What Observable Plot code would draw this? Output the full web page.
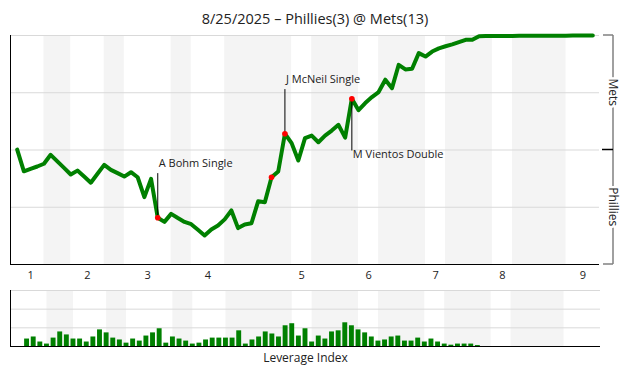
<!DOCTYPE html>
<html><head><meta charset="utf-8">
<script src="https://cdn.jsdelivr.net/npm/d3@7"></script>
<script src="https://cdn.jsdelivr.net/npm/@observablehq/plot@0.6"></script>
<style>
body{margin:0;background:#fff;font-family:'Open Sans',sans-serif;}
#wrap{position:relative;width:630px;height:380px;overflow:hidden;}
#title{position:absolute;top:11px;left:0;width:630px;text-align:center;font-size:14.5px;line-height:15px;color:#222;white-space:nowrap;}
#main{position:absolute;top:30px;left:0;}
#lev{position:absolute;top:285px;left:0;}
</style></head><body>
<div id="wrap"><div id="title"></div><div id="main"></div><div id="lev"></div></div>
<script>
const titleText = "8/25/2025 – Phillies(3) @ Mets(13)";
const levLabel = "Leverage Index";

// Mets (home) win probability after each plate appearance (index 0 = game start)
const homeWinProb = [
  0.502, 0.407, 0.418, 0.428, 0.440, 0.479, 0.450, 0.422, 0.393, 0.410,
  0.384, 0.357, 0.396, 0.435, 0.413, 0.399, 0.384, 0.403, 0.381, 0.294,
  0.374, 0.204, 0.186, 0.221, 0.203, 0.186, 0.176, 0.152, 0.127, 0.153,
  0.170, 0.197, 0.236, 0.159, 0.175, 0.180, 0.276, 0.272, 0.381, 0.406,
  0.571, 0.530, 0.454, 0.552, 0.563, 0.534, 0.563, 0.585, 0.610, 0.554,
  0.724, 0.674, 0.705, 0.731, 0.753, 0.807, 0.770, 0.872, 0.852, 0.855,
  0.923, 0.908, 0.930, 0.944, 0.953, 0.961, 0.971, 0.981, 0.981, 0.997,
  0.998, 0.998, 0.998, 0.998, 0.998, 0.999, 0.999, 0.999, 0.999, 0.999,
  0.999, 0.999, 0.999, 1.000, 1.000, 1.000, 1.000
];

// Leverage index of plate appearances 1..86 (in gridline units)
const leverage = [
  0.40, 0.51, 0.24, 0.13, 0.45, 0.78, 0.62, 0.40, 0.40, 0.24,
  0.51, 0.89, 0.73, 0.45, 0.35, 0.18, 0.40, 0.29, 0.56, 0.73,
  0.95, 0.18, 0.51, 0.40, 0.29, 0.13, 0.18, 0.35, 0.45, 0.45,
  0.45, 0.45, 0.84, 0.13, 0.35, 0.51, 0.78, 0.67, 0.51, 1.11,
  1.22, 0.56, 0.95, 0.24, 0.56, 0.40, 0.78, 0.84, 1.27, 1.11,
  0.89, 0.73, 0.51, 0.29, 0.35, 0.51, 0.56, 0.29, 0.29, 0.45,
  0.24, 0.40, 0.24, 0.13, 0.07, 0.13, 0.13, 0.13, 0.05, 0,
  0, 0, 0, 0, 0, 0, 0, 0, 0, 0,
  0, 0, 0, 0, 0, 0
];

// plate-appearance index at which each half inning ends
const halfInningEnds = [4, 8, 13, 16, 23, 26, 31, 41, 44, 51, 54, 61, 64, 71, 74, 82, 87];
const inningLabels = ["1", "2", "3", "4", "5", "6", "7", "8", "9"];

const eventPA = [21, 38, 40, 50];
const eventLabels = ["A Bohm Single", "", "J McNeil Single", "M Vientos Double"];
const eventSide = ["above", "none", "above", "below"];

const teamNames = ["Mets", "Phillies"];
const teamLow = [0.5, 0];
const teamHigh = [1, 0.5];

document.getElementById("title").textContent = titleText;

// derived tables
const halves = halfInningEnds.map((end, j) => ({start: j === 0 ? 0 : halfInningEnds[j - 1], end, bottom: j % 2 === 1}));
const bottomHalves = halves.filter(h => h.bottom);
const innings = inningLabels.map((label, j) => ({label, center: (halves[2 * j].start + halves[2 * j].end) / 2}));
const wp = homeWinProb.map((p, i) => ({i, p}));
const events = eventPA.map((pa, j) => {
  const p = homeWinProb[pa];
  const side = eventSide[j];
  return {pa, p, label: eventLabels[j], side, tip: side === "above" ? p + 0.195 : side === "below" ? p - 0.226 : p};
});
const labelled = events.filter(e => e.side !== "none");
const levData = leverage.map((v, j) => ({pa: j + 1, v}));

const font = "'Open Sans', sans-serif";
const xDomain = [-1, 87];

const main = Plot.plot({
  width: 630, height: 255,
  marginTop: 5, marginBottom: 21, marginLeft: 10, marginRight: 31,
  x: {domain: xDomain, axis: null},
  y: {domain: [0, 1], axis: null},
  style: {fontFamily: font, fontSize: "11px", color: "#222", background: "transparent", overflow: "visible"},
  marks: [
    Plot.rect(bottomHalves, {x1: "start", x2: "end", y1: 0, y2: 1, fill: "#f4f4f4"}),
    Plot.ruleY([0.25, 0.5, 0.75, 1], {stroke: "#d9d9d9"}),
    Plot.ruleY([0], {stroke: "#000"}),
    Plot.ruleX([xDomain[0]], {stroke: "#000"}),
    Plot.line(wp, {x: "i", y: "p", stroke: "#008000", strokeWidth: 4, strokeLinejoin: "round", strokeLinecap: "round"}),
    Plot.link(labelled, {x1: "pa", x2: "pa", y1: "p", y2: "tip", stroke: "#000", strokeWidth: 1}),
    Plot.dot(events, {x: "pa", y: "p", r: 2.8, fill: "#ff0000", stroke: null}),
    Plot.text(labelled.filter(e => e.side === "above"), {x: "pa", y: "tip", text: "label", textAnchor: "start", lineAnchor: "bottom", dx: 1, dy: -6, fill: "#222"}),
    Plot.text(labelled.filter(e => e.side === "below"), {x: "pa", y: "tip", text: "label", textAnchor: "start", lineAnchor: "top", dx: 1, dy: 0, fill: "#222"}),
    Plot.text(innings, {x: "center", y: 0, text: "label", lineAnchor: "top", dy: 7, fill: "#222"})
  ]
});
document.getElementById("main").appendChild(main);

// team bracket on the right, positioned with Plot's own scales
{
  const sx = main.scale("x"), sy = main.scale("y");
  const Y = d3.scaleLinear(sy.domain, sy.range);
  const bx = Math.max(...sx.range) + 14;
  const g = d3.select(main).append("g");
  g.append("line").attr("x1", bx).attr("x2", bx).attr("y1", Y(0)).attr("y2", Y(1)).attr("stroke", "#808080").attr("stroke-width", 1.5);
  [0, 1].forEach(v => g.append("line").attr("x1", bx - 10).attr("x2", bx).attr("y1", Y(v)).attr("y2", Y(v)).attr("stroke", "#808080").attr("stroke-width", 1.5));
  g.append("line").attr("x1", bx - 11).attr("x2", bx).attr("y1", Y(0.5)).attr("y2", Y(0.5)).attr("stroke", "#000").attr("stroke-width", 1.5);
  teamNames.forEach((t, j) => {
    g.append("text")
      .attr("transform", `translate(${bx},${Y((teamLow[j] + teamHigh[j]) / 2)}) rotate(90)`)
      .attr("text-anchor", "middle").attr("dy", "0.36em")
      .attr("font-size", 12).attr("font-family", font)
      .attr("fill", "#222").attr("stroke", "#fff").attr("stroke-width", 5).attr("paint-order", "stroke")
      .text(t);
  });
}

const levDomain = [-1.5, 87.5];
const lev = Plot.plot({
  width: 630, height: 95,
  marginTop: 5, marginBottom: 34, marginLeft: 10, marginRight: 30,
  x: {domain: levDomain, axis: null},
  y: {domain: [0, 3], axis: null},
  style: {fontFamily: font, fontSize: "12px", color: "#222", background: "transparent", overflow: "visible"},
  marks: [
    Plot.rect(bottomHalves, {x1: "start", x2: "end", y1: 0, y2: 3, fill: "#f4f4f4"}),
    Plot.ruleY([1, 2, 3], {stroke: "#d9d9d9"}),
    Plot.rect(levData, {x1: d => d.pa - 0.37, x2: d => d.pa + 0.37, y1: 0, y2: "v", fill: "#008000"}),
    Plot.ruleY([0], {stroke: "#000"}),
    Plot.ruleX([levDomain[0]], {stroke: "#000"}),
    Plot.text([levLabel], {frameAnchor: "bottom", text: d => d, lineAnchor: "bottom", dy: 15.7, fill: "#222"})
  ]
});
document.getElementById("lev").appendChild(lev);
</script>
</body></html>
